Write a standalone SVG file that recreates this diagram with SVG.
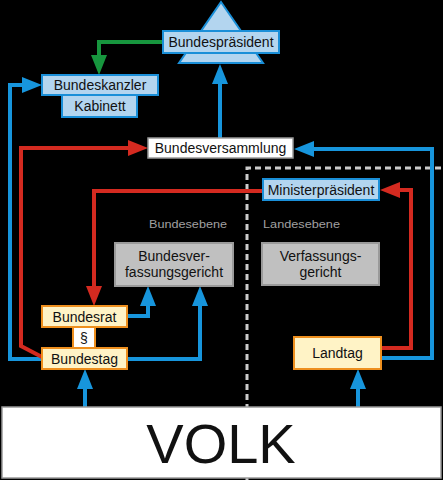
<svg xmlns="http://www.w3.org/2000/svg" width="443" height="480" viewBox="0 0 443 480">
<style>
text{font-family:"Liberation Sans",Arial,sans-serif;font-size:14px;fill:#111;text-anchor:middle}
.lb{fill:#b3d5ef;stroke:#1a8fd8;stroke-width:2}
.yl{fill:#fff3c6;stroke:#ee8f1e;stroke-width:2}
.gr{fill:#c0c0c0;stroke:#9a9a9a;stroke-width:2}
.wh{fill:#fff;stroke:#999;stroke-width:1.5}
.c{fill:none;stroke-width:4}
.b{stroke:#1795dc}
.r{stroke:#d42a20}
.g{stroke:#17963e}
.lvl{font-size:11px;fill:#a0a0a0;text-anchor:start}
</style>
<defs>
<marker id="ab" markerUnits="userSpaceOnUse" markerWidth="20" markerHeight="16" refX="0" refY="8" orient="auto" overflow="visible"><path d="M0,0 L20,8 L0,16 z" fill="#1795dc"/></marker>
<marker id="ar" markerUnits="userSpaceOnUse" markerWidth="20" markerHeight="16" refX="0" refY="8" orient="auto" overflow="visible"><path d="M0,0 L20,8 L0,16 z" fill="#d42a20"/></marker>
<marker id="ag" markerUnits="userSpaceOnUse" markerWidth="20" markerHeight="16" refX="0" refY="8" orient="auto" overflow="visible"><path d="M0,0 L20,8 L0,16 z" fill="#17963e"/></marker>
</defs>
<rect width="443" height="480" fill="#000"/>
<path d="M247,480 V168 H443" fill="none" stroke="#cccccc" stroke-width="3" stroke-dasharray="6,4"/>
<text class="lvl" x="149" y="228" textLength="78" lengthAdjust="spacingAndGlyphs">Bundesebene</text>
<text class="lvl" x="263" y="228" textLength="77" lengthAdjust="spacingAndGlyphs">Landesebene</text>
<g id="connectors">
<path class="c g" d="M163,42 H99 V55" marker-end="url(#ag)"/>
<path class="c b" d="M220,138 V84" marker-end="url(#ab)"/>
<path class="c b" d="M42,359 H10 V85 H22" marker-end="url(#ab)"/>
<path class="c r" d="M42,357 L21,346 V148 H128" marker-end="url(#ar)"/>
<path class="c b" d="M381,358 H432 V149 H314" marker-end="url(#ab)"/>
<path class="c r" d="M381,348 H411 V190 H400" marker-end="url(#ar)"/>
<path class="c r" d="M263,191 H94 V286" marker-end="url(#ar)"/>
<path class="c b" d="M127,316 H148 V306" marker-end="url(#ab)"/>
<path class="c b" d="M127,359 H200 V306" marker-end="url(#ab)"/>
<path class="c b" d="M85,407 V389" marker-end="url(#ab)"/>
<path class="c b" d="M358,407 V389" marker-end="url(#ab)"/>
</g>
<g id="bundespraesident">
<polygon class="lb" points="221,2 263,63 179,63"/>
<rect class="lb" x="163" y="31" width="116" height="22"/>
<text x="221" y="47">Bundespräsident</text>
</g>
<g id="bundeskanzler">
<rect class="lb" x="42" y="75" width="116" height="20"/>
<text x="100" y="90">Bundeskanzler</text>
</g>
<g id="kabinett">
<rect class="lb" x="62" y="95" width="75" height="22"/>
<text x="100" y="111">Kabinett</text>
</g>
<g id="bundesversammlung">
<rect class="wh" x="148" y="138" width="145" height="20"/>
<text x="220.5" y="153">Bundesversammlung</text>
</g>
<g id="ministerpraesident">
<rect class="lb" x="263" y="179" width="116" height="21"/>
<text x="321" y="194.5">Ministerpräsident</text>
</g>
<g id="bverfg">
<rect class="gr" x="115" y="243" width="118" height="43"/>
<text x="174" y="261">Bundesver-</text>
<text x="174" y="277">fassungsgericht</text>
</g>
<g id="verfg">
<rect class="gr" x="262" y="243" width="117" height="42"/>
<text x="320.5" y="261">Verfassungs-</text>
<text x="320.5" y="277">gericht</text>
</g>
<g id="bundesrat">
<rect class="yl" x="42" y="306" width="85" height="21"/>
<text x="84.5" y="321.5">Bundesrat</text>
</g>
<g id="paragraph">
<rect x="73" y="327" width="22" height="21" fill="#fff" stroke="#ee8f1e" stroke-width="2"/>
<text x="84" y="342.5">§</text>
</g>
<g id="bundestag">
<rect class="yl" x="42" y="348" width="85" height="21"/>
<text x="84.5" y="363.5">Bundestag</text>
</g>
<g id="landtag">
<rect class="yl" x="294" y="337" width="87" height="32"/>
<text x="337.5" y="358">Landtag</text>
</g>
<g id="volk">
<rect x="2" y="407" width="439" height="71" fill="#fff" stroke="#999" stroke-width="1.5"/>
<text x="221" y="463" style="font-size:56px">VOLK</text>
</g>
</svg>
